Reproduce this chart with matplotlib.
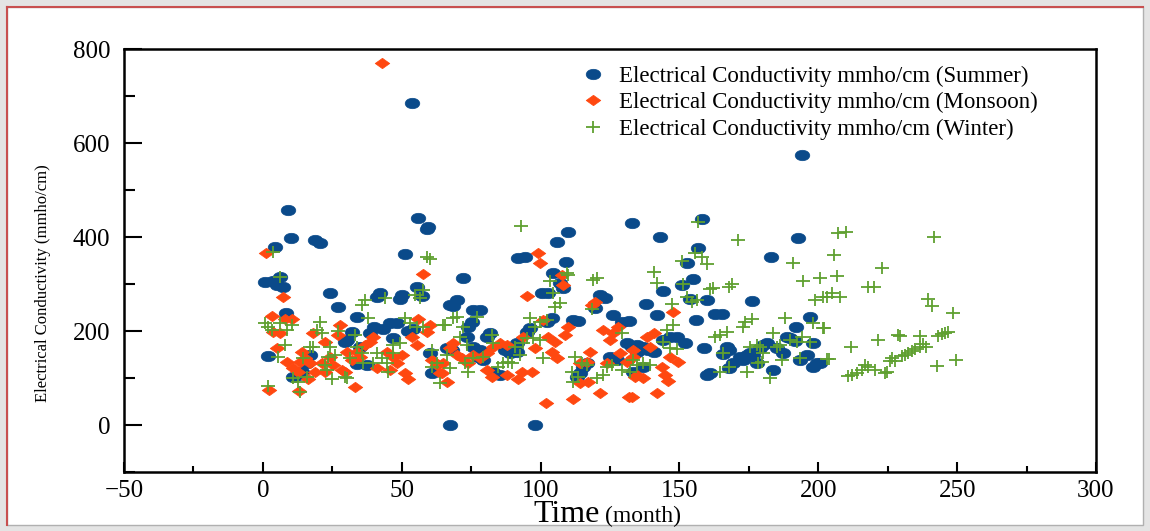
import numpy as np
import matplotlib
matplotlib.use("Agg")
import matplotlib.pyplot as plt
from matplotlib.path import Path
from matplotlib.patches import Rectangle
from matplotlib.lines import Line2D

# Summer readings (time in months, EC in mmho/cm)
summer_t = [53.6, 194, 9, 55.8, 59.4, 59.1, 10.1, 4.3, 18.7, 20.5, 51.1, 0.7, 3.6, 5, 7.2, 6.1, 24.1, 27,
            42.1, 41, 50.1, 49.3, 55.5, 57.3, 8.3, 33.8, 40, 45.7, 48.3, 43.2, 32, 30.2, 29.5, 38.5, 46.8,
            52.2, 54, 1.8, 16.9, 15.8, 10.8, 12.6, 14, 34.9, 37.5, 33.8, 67.3, 66.3, 60.1, 60.9, 67.3,
            109.8, 105.9, 91.8, 94.3, 109.1, 72, 104.4, 106.9, 108, 69.9, 68.4, 100.5, 102.6, 121.4, 123.2,
            119.6, 75.6, 78.1, 75.3, 73.8, 104, 102.3, 96.1, 95, 111.6, 113.4, 126, 129.3, 81.7, 80.7, 73.5,
            68, 75.6, 78.1, 79.2, 77.4, 79.2, 88.9, 91.5, 87.9, 87.1, 91.5, 131, 132.9, 134.7, 125, 127.5,
            116.7, 115.2, 114.2, 113.1, 82.8, 85.3, 98, 133.2,
            133, 158, 143, 192.7, 156.7, 182.9, 152.7, 155, 151, 144, 138, 153.8, 160, 176, 141.9, 156,
            162.8, 165.3, 197, 192, 146.6, 149, 152, 144, 189.8, 188.7, 191.6, 198, 158.8, 167, 168, 165.6,
            181.5, 180, 179, 185, 187.2, 171.8, 172.9, 174.3, 175.4, 176.4, 195.9, 193.4, 177.9, 169.2, 168,
            183.7, 161, 159.9, 199.5, 198, 132, 134.7, 136.8, 138.6, 141, 136.8, 200.6]
summer_ec = [685, 574, 457, 440, 421, 417, 398, 379, 394, 387, 364, 304, 306, 298, 293, 315, 281, 251,
             281, 272, 277, 268, 294, 274, 238, 230, 209, 217, 217, 204, 198, 181, 177, 196, 185,
             200, 204, 147, 149, 132, 102, 106, 113, 166, 128, 130, 0, 164, 153, 111, 255,
             411, 389, 355, 358, 347, 312, 323, 302, 291, 266, 253, 281, 281, 277, 270,
             249, 245, 245, 219, 209, 228, 219, 206, 198, 223, 221, 234, 219, 196, 187, 187,
             160, 166, 160, 153, 145, 138, 153, 155, 166, 160, 174, 174, 166, 155, 145, 138,
             132, 123, 111, 102, 113, 106, 0, 113,
             430, 438, 400, 398, 377, 358, 345, 311, 298, 285, 257, 268, 266, 264, 234, 223,
             236, 236, 230, 209, 187, 187, 174, 181, 185, 187, 179, 174, 164, 166, 160, 151,
             174, 170, 164, 164, 153, 145, 138, 149, 153, 149, 149, 138, 132, 132, 121,
             117, 111, 106, 132, 123, 221, 170, 166, 160, 155, 123, 132]

# Monsoon readings
monsoon_t = [43, 1.1, 57.6, 7.2, 3.2, 7.9, 10.4, 3.6, 6.1, 27.7, 18, 55.8, 60.1, 59.1, 27, 22.3, 39.6, 38.5,
             36.7, 53.7, 5, 55.5, 14, 15.1, 16.9, 13.3, 8.6, 10.8, 12.6, 24.1, 21.2, 18.7, 22.3, 25.2, 28.4,
             29.5, 30.2, 33.8, 34.9, 32, 44.6, 46.8, 50.1, 48.3, 41, 45.7, 51.1, 52.2, 16.2, 33.1, 2.2, 13,
             60.9, 62.7, 64.5,
             99, 99.7, 107.7, 108, 95, 119.6, 118.5, 100.8, 109.8, 108.7, 122.4, 126, 127.8, 125, 102.6,
             105.1, 93.6, 98, 104, 105.9, 117.8, 68.4, 67.3, 69.9, 71.7, 75.6, 78.1, 80.7, 82.8, 85.3, 87.9,
             64.8, 73.8, 63.7, 66.3, 80.7, 82.5, 87.9, 91.8, 93.2, 96.9, 114.2, 116.7, 117, 114.2, 121.4,
             111.6, 101.9, 131.8, 123.9, 128.6, 131, 133.2, 134,
             147.6, 141, 138.3, 139.4, 133.2, 146.6, 149.4, 143.7, 134.7, 136.8, 144.8, 145.8, 141.9, 132.9]
monsoon_ec = [770, 366, 321, 272, 232, 225, 225, 198, 196, 213, 196, 225, 213, 198, 191, 177, 187, 177,
              170, 187, 164, 170, 155, 143, 132, 134, 134, 121, 113, 145, 132, 113, 113, 128, 117,
              113, 155, 155, 145, 138, 155, 145, 149, 132, 121, 117, 111, 98, 98, 81, 74, 72,
              138, 128, 111,
              366, 345, 319, 298, 274, 262, 255, 223, 209, 191, 202, 196, 209, 181, 187,
              177, 187, 164, 155, 143, 155, 174, 164, 149, 143, 149, 143, 153, 166, 174, 170,
              132, 132, 111, 91, 117, 102, 106, 98, 113, 113, 132, 134, 91, 89, 68,
              55, 47, 60, 132, 153, 134, 145, 102,
              240, 196, 187, 166, 160, 145, 134, 123, 106, 100, 106, 94, 68, 60]

# Winter readings
winter_t = [3.6, 59.1, 60.1, 6.1, 36.7, 35.6, 43.9, 54.7, 57.6, 56.5, 37.8, 20.5, 0.7, 6.1, 10.4, 8.6, 3.2,
            1.8, 19.4, 21.2, 27, 33.1, 51.1, 52.9, 55.5, 57.6, 64.8, 7.9, 16.9, 18, 24.1, 5.4, 33.8, 35.6,
            31.3, 41, 42.9, 44.6, 39.6, 36, 46.8, 49.3, 46.8, 23.4, 25.9, 22.3, 23, 14.4, 10.8, 15.8, 12.6,
            24.8, 29.5, 30.2, 45, 1.8, 13.3, 60.9, 62.7, 63.7, 60.9,
            92.9, 103.3, 109.5, 109.8, 118.8, 120.3, 104.4, 105.1, 107, 118.5, 68.4, 69.9, 65.5, 72, 77,
            96.1, 98, 99.7, 102.3, 70.9, 73.5, 82.5, 82.8, 95, 93.6, 97.2, 99.7, 90.7, 92.5, 100.8, 79.2,
            75.6, 66.3, 67.3, 73.8, 72.7, 84.6, 86.4, 88.2, 89.7, 112.4, 111.3, 113.4, 111.6, 114.9, 116.7,
            120.3, 122.4, 123.9, 125.7, 129.3, 129.3, 132.2, 133.2,
            156.6, 171, 150.9, 155.6, 158, 159.9, 141, 141.9, 151.2, 161, 162, 169, 168, 190.9, 194.4,
            200.6, 198.8, 201.7, 152.7, 154.5, 156.3, 147.3, 176, 173.6, 172.8, 188, 147.6, 145.5, 198,
            201.7, 167, 164.6, 162.8, 183.7, 194, 189.8, 192.3, 197, 144, 146.6, 149, 177.9, 179, 175.4,
            185, 186.2, 180, 165.6, 186.9, 193.4, 203, 178.3, 179.7, 168, 164.6, 174.3, 182.6, 139.4,
            136.8, 134.7,
            207, 210, 241.6, 205.6, 223, 206.7, 218, 220, 204.9, 203, 207.8, 239.5, 241, 248.5, 202,
            229.4, 228.6, 236.6, 243, 244.5, 245.6, 246.7, 221.5, 211.7, 237.7, 238.7, 236.6, 234.8,
            233.7, 232.3, 231.2, 230, 226.5, 227.6, 225.8, 204, 249.5, 242.7, 224.7, 224, 220.4, 217.9,
            216.8, 215.7, 213.9, 212, 210.7]
winter_ec = [368, 358, 353, 315, 266, 255, 270, 277, 287, 270, 228, 219, 217, 217, 213, 202, 202,
             209, 202, 196, 200, 191, 228, 217, 209, 209, 213, 170, 166, 166, 166, 145, 166, 153,
             143, 153, 143, 132, 132, 132, 170, 174, 153, 145, 149, 128, 117, 143, 100, 102, 91,
             98, 102, 100, 113, 83, 70, 123, 132, 89, 160,
             423, 306, 323, 319, 309, 313, 281, 251, 260, 247, 228, 230, 213, 209, 230,
             228, 209, 219, 223, 187, 170, 191, 174, 185, 174, 185, 181, 166, 149, 143, 145,
             143, 149, 121, 113, 132, 123, 132, 134, 132, 145, 113, 102, 91, 132, 128,
             100, 106, 123, 128, 196, 117, 113, 138,
             432, 394, 349, 366, 358, 343, 326, 302, 300, 289, 291, 300, 294, 345, 306,
             312, 266, 272, 272, 262, 266, 257, 225, 219, 208, 228, 213, 202, 217,
             206, 198, 191, 187, 196, 187, 181, 177, 177, 177, 164, 162, 170, 166, 166,
             166, 170, 153, 153, 138, 143, 140, 132, 134, 123, 113, 113, 100, 128,
             132, 128,
             408, 410, 400, 362, 334, 317, 293, 293, 281, 272, 272, 268, 253, 238, 206,
             189, 191, 189, 189, 194, 196, 198, 181, 166, 172, 166, 166, 162,
             157, 153, 149, 147, 143, 136, 136, 140, 138, 126, 113, 111, 117, 123,
             128, 117, 111, 106, 104]

labels = ['Electrical Conductivity mmho/cm (Summer)',
          'Electrical Conductivity mmho/cm (Monsoon)',
          'Electrical Conductivity mmho/cm (Winter)']
c_summer = '#0a4a8a'
c_monsoon = '#ff4810'
c_winter = '#5fa030'

plt.rcParams['font.family'] = 'Liberation Serif'

# wide markers (ellipse, diamond, plus)
ell = Path.unit_circle().transformed(matplotlib.transforms.Affine2D().scale(1.4, 1.0))
dia = Path([(-1.4, 0), (0, 1), (1.4, 0), (0, -1), (-1.4, 0)],
           [Path.MOVETO, Path.LINETO, Path.LINETO, Path.LINETO, Path.CLOSEPOLY])
plus = Path([(-1.3, 0), (1.3, 0), (0, -1), (0, 1)],
            [Path.MOVETO, Path.LINETO, Path.MOVETO, Path.LINETO])

fig = plt.figure(figsize=(11.5, 5.31), dpi=100)
fig.patch.set_facecolor('#e4e4e4')
fig.patches.append(Rectangle((7 / 1150, 6 / 531), 1136 / 1150, 518 / 531, transform=fig.transFigure,
                             facecolor='white', edgecolor='#b0b0b0', lw=1, zorder=-5))
fig.lines.append(Line2D([7 / 1150, 7 / 1150], [6 / 531, 524 / 531], transform=fig.transFigure,
                        color='#c85050', lw=1.5, zorder=-4))
fig.lines.append(Line2D([7 / 1150, 1143 / 1150], [524 / 531, 524 / 531], transform=fig.transFigure,
                        color='#c85050', lw=1.5, zorder=-4))

ax = fig.add_axes([124 / 1150, 59 / 531, 972 / 1150, 423 / 531])
ax.set_facecolor('white')

ax.plot(summer_t, summer_ec, ls='none', marker=ell, ms=10.5, mfc=c_summer, mec=c_summer, mew=0.5,
        label=labels[0], zorder=3)
ax.plot(monsoon_t, monsoon_ec, ls='none', marker=dia, ms=10.5, mfc=c_monsoon, mec=c_monsoon, mew=0.5,
        label=labels[1], zorder=4)
ax.plot(winter_t, winter_ec, ls='none', marker=plus, ms=10.5, mfc='none', mec=c_winter, mew=1.3,
        label=labels[2], zorder=5)

ax.set_xlim(-50, 300)
ax.set_ylim(-100, 800)
ax.set_xticks([-50, 0, 50, 100, 150, 200, 250, 300])
ax.set_xticks([-25, 25, 75, 125, 175, 225, 275], minor=True)
ax.set_yticks([0, 200, 400, 600, 800])
ax.set_yticks([-100, 100, 300, 500, 700], minor=True)
ax.tick_params(axis='both', which='both', direction='in', top=False, right=False, width=1.5,
               labelsize=18)
ax.tick_params(axis='x', which='major', length=7, pad=6)
ax.tick_params(axis='x', which='minor', length=4)
ax.tick_params(axis='y', which='major', length=13, pad=10)
ax.tick_params(axis='y', which='minor', length=8)
for s in ax.spines.values():
    s.set_linewidth(1.8)

fig.text(43 / 1150, 1 - 283 / 531, 'Electrical Conductivity (mmho/cm)', rotation=90,
         ha='center', va='center', fontsize=12)
fig.text(600 / 1150, 9 / 531, 'Time', ha='right', va='baseline', fontsize=23)
fig.text(605 / 1150, 9 / 531, '(month)', ha='left', va='baseline', fontsize=17)

ax.legend(loc='upper left', bbox_to_anchor=(579 / 1150, 1 - 66 / 531), bbox_transform=fig.transFigure,
          frameon=False, fontsize=16.5, handlelength=1.2, handletextpad=0.55, labelspacing=0.22,
          borderpad=0, borderaxespad=0)

fig.savefig('out.png', dpi=100, facecolor=fig.get_facecolor())
